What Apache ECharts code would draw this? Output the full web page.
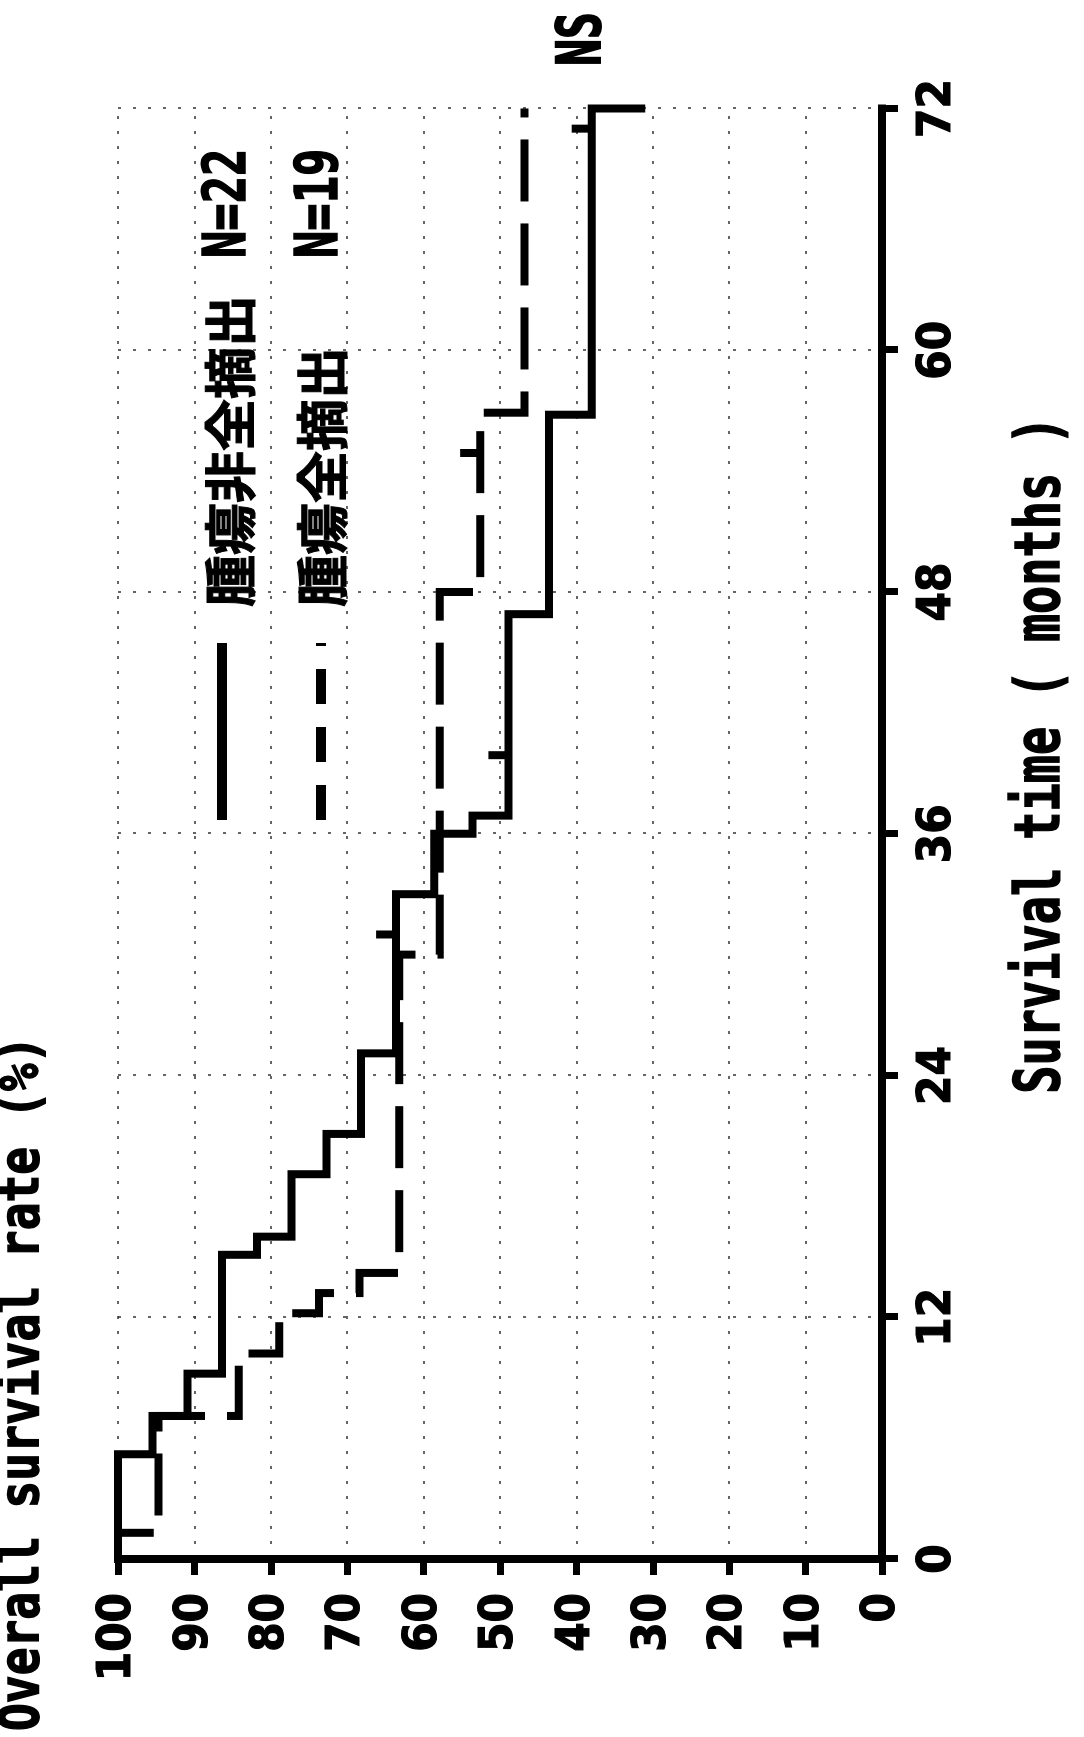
<!DOCTYPE html>
<html>
<head>
<meta charset="utf-8">
<script src="https://cdn.jsdelivr.net/npm/echarts/dist/echarts.min.js"></script>
<style>
html, body { margin:0; padding:0; width:1084px; height:1737px; overflow:hidden; background:#fff; }
#wrap { position:absolute; left:0; top:0; width:1737px; height:1084px; transform-origin:0 0; transform:translateY(1737px) rotate(-90deg); }
#chart { width:1737px; height:1084px; }
</style>
</head>
<body>
<div id="wrap"><div id="chart"></div></div>
<script>
// ---- data ----
const timeTicks = [0, 12, 24, 36, 48, 60, 72];
const rateTicks = [0, 10, 20, 30, 40, 50, 60, 70, 80, 90, 100];

// 腫瘍非全摘出 N=22 (solid) : step values, each holds from its time to the next
const solidTimes = [0, 5.2, 7.1, 9.2, 15.1, 16.0, 19.1, 21.1, 25.1, 33.0, 36.0, 36.9, 46.9, 56.8, 72.0];
const solidRates = [100, 95.5, 90.9, 86.4, 81.8, 77.3, 72.7, 68.2, 63.6, 58.6, 53.6, 48.9, 43.6, 38.0, 31.0];
// 腫瘍全摘出 N=19 (dashed)
const dashedTimes = [0, 1.3, 7.1, 10.2, 12.2, 13.2, 14.2, 30.0, 48.0, 56.9, 72.0];
const dashedRates = [100, 94.7, 84.2, 78.9, 73.7, 68.4, 63.2, 57.9, 52.6, 46.8, 46.8];

// censored observations
const solidCensorTimes = [31.0, 39.9, 71.0];
const solidCensorRates = [63.6, 48.9, 38.0];
const dashedCensorTimes = [54.9];
const dashedCensorRates = [52.6];

const groupNames = ['腫瘍非全摘出', '腫瘍全摘出'];
const groupCounts = ['N=22', 'N=19'];
const titleText = 'Overall survival rate (%)';
const xAxisName = 'Survival time ( months )';
const testLabel = 'NS';

// ---- chart ----
const zip = (a, b) => a.map((v, i) => [v, b[i]]);
const labelFont = '"Liberation Sans Narrow", "DejaVu Sans Condensed", "Arial Narrow", sans-serif';
const monoFont = '"DejaVu Sans Mono", "Liberation Mono", monospace';

const chart = echarts.init(document.getElementById('chart'), null, { renderer: 'canvas' });

const axisCommon = {
  type: 'value',
  axisLine: { show: true, onZero: false, lineStyle: { color: '#000', width: 8, cap: 'square' } },
  axisTick: { show: true, inside: false, length: 16, lineStyle: { color: '#000', width: 7 } },
  splitLine: { show: true, lineStyle: { color: '#333', width: 1.5, type: [3, 12] } },
  axisLabel: { color: '#000', fontSize: 47, fontWeight: 'bold', fontFamily: labelFont, margin: 30,
               textBorderColor: '#000', textBorderWidth: 1.2 }
};

function txt(x, y, text, font, scaleX, align, sw) {
  return {
    type: 'text', x: x, y: y, scaleX: scaleX, z: 100,
    style: { text: text, font: font, fill: '#000', stroke: '#000', lineWidth: sw || 0,
             align: align || 'left', textAlign: align || 'left',
             verticalAlign: 'middle', textVerticalAlign: 'middle' }
  };
}

chart.setOption({
  animation: false,
  backgroundColor: '#fff',
  grid: { left: 178, right: 108.5, top: 118, bottom: 202, containLabel: false },
  xAxis: Object.assign({}, axisCommon, {
    min: timeTicks[0], max: timeTicks[timeTicks.length - 1], interval: 12,
    axisLabel: Object.assign({}, axisCommon.axisLabel, {
      margin: 32,
      formatter: v => timeTicks.includes(v) ? String(v) : ''
    })
  }),
  yAxis: Object.assign({}, axisCommon, {
    min: rateTicks[0], max: rateTicks[rateTicks.length - 1], interval: 10,
    axisLabel: Object.assign({}, axisCommon.axisLabel, {
      margin: 34,
      formatter: v => rateTicks.includes(v) ? String(v) : ''
    })
  }),
  series: [
    {
      name: groupNames[0], type: 'line', step: 'end', symbol: 'none',
      data: zip(solidTimes, solidRates),
      lineStyle: { color: '#000', width: 8, cap: 'butt', join: 'miter' }, z: 3
    },
    {
      name: groupNames[1], type: 'line', step: 'end', symbol: 'none',
      data: zip(dashedTimes, dashedRates),
      lineStyle: { color: '#000', width: 8, type: [62, 22], cap: 'butt', join: 'miter' }, z: 3
    },
    {
      name: groupNames[0] + ' censored', type: 'scatter', symbol: 'rect',
      symbolSize: [8, 20], symbolOffset: [0, -10],
      data: zip(solidCensorTimes, solidCensorRates),
      itemStyle: { color: '#000', opacity: 1 }, z: 4
    },
    {
      name: groupNames[1] + ' censored', type: 'scatter', symbol: 'rect',
      symbolSize: [8, 20], symbolOffset: [0, -10],
      data: zip(dashedCensorTimes, dashedCensorRates),
      itemStyle: { color: '#000', opacity: 1 }, z: 4
    }
  ],
  graphic: [
    txt(6, 24, titleText, 'bold 55px ' + monoFont, 0.84, 'left', 1.5),
    txt(982, 1043, xAxisName, 'bold 62px ' + monoFont, 0.756, 'center', 1.5),
    txt(1698, 584, testLabel, 'bold 60px ' + monoFont, 0.74, 'center', 2),
    { type: 'line', z: 100, shape: { x1: 917, y1: 222, x2: 1094, y2: 222 },
      style: { stroke: '#000', lineWidth: 10 } },
    { type: 'line', z: 100, shape: { x1: 917, y1: 321, x2: 1094, y2: 321 },
      style: { stroke: '#000', lineWidth: 10, lineDash: [35, 23] } },
    txt(1130, 230, groupNames[0], 'bold 52px "Noto Sans CJK JP"', 1, 'left', 1),
    txt(1479, 230, groupCounts[0], 'bold 59px ' + monoFont, 0.77, 'left', 1.5),
    txt(1130, 322, groupNames[1], 'bold 52px "Noto Sans CJK JP"', 1, 'left', 1),
    txt(1479, 322, groupCounts[1], 'bold 59px ' + monoFont, 0.77, 'left', 1.5)
  ]
});
</script>
</body>
</html>
